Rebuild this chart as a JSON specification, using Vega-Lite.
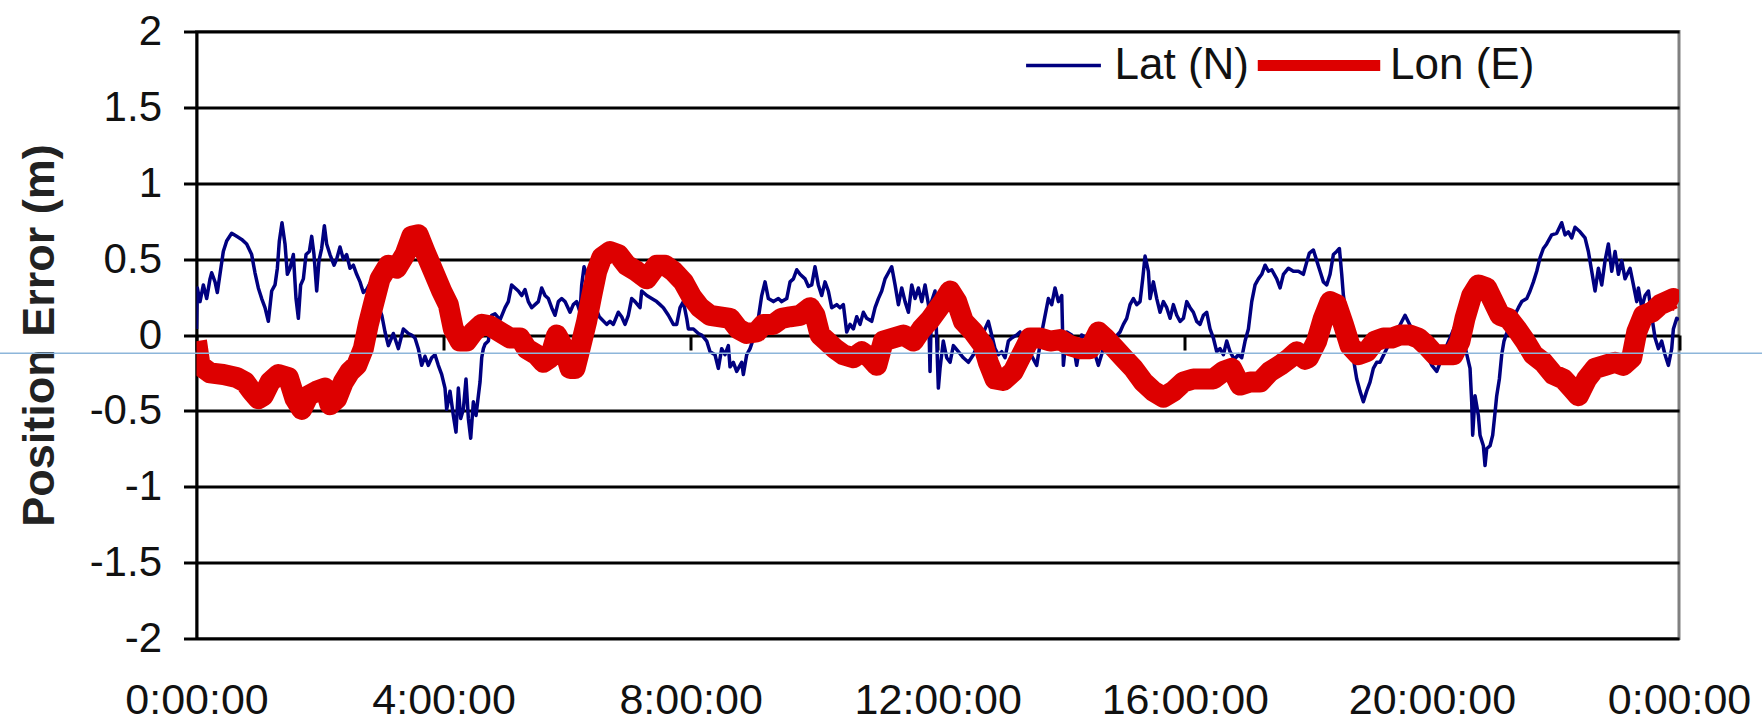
{
"$schema": "https://vega.github.io/schema/vega-lite/v6.json",
"width": 1482.5,
"height": 607,
"autosize": {"type": "none"},
"padding": {"left": 196.5, "top": 31.5, "right": 83, "bottom": 84.5},
"background": "white",
"config": {"font": "Liberation Sans", "view": {"stroke": "#808080", "strokeWidth": 3}},
"datasets": {
"lat": [
{"t":0,"e":0.04},{"t":0.013,"e":0.31},{"t":0.057,"e":0.22},{"t":0.111,"e":0.33},{"t":0.165,"e":0.24},{"t":0.219,"e":0.37},{"t":0.246,"e":0.41},{"t":0.3,"e":0.35},{"t":0.337,"e":0.28},{"t":0.38,"e":0.4},{"t":0.434,"e":0.55},{"t":0.488,"e":0.62},{"t":0.569,"e":0.67},{"t":0.65,"e":0.65},{"t":0.731,"e":0.63},{"t":0.812,"e":0.6},{"t":0.893,"e":0.53},{"t":0.947,"e":0.41},{"t":1.001,"e":0.31},{"t":1.055,"e":0.24},{"t":1.109,"e":0.18},{"t":1.163,"e":0.09},{"t":1.217,"e":0.29},{"t":1.271,"e":0.33},{"t":1.309,"e":0.44},{"t":1.341,"e":0.62},{"t":1.384,"e":0.74},{"t":1.433,"e":0.6},{"t":1.471,"e":0.4},{"t":1.514,"e":0.44},{"t":1.568,"e":0.53},{"t":1.611,"e":0.24},{"t":1.649,"e":0.11},{"t":1.686,"e":0.33},{"t":1.73,"e":0.37},{"t":1.773,"e":0.53},{"t":1.827,"e":0.55},{"t":1.865,"e":0.65},{"t":1.902,"e":0.53},{"t":1.946,"e":0.29},{"t":1.983,"e":0.49},{"t":2.026,"e":0.57},{"t":2.07,"e":0.72},{"t":2.107,"e":0.6},{"t":2.161,"e":0.53},{"t":2.226,"e":0.46},{"t":2.269,"e":0.5},{"t":2.323,"e":0.58},{"t":2.377,"e":0.5},{"t":2.431,"e":0.53},{"t":2.485,"e":0.44},{"t":2.539,"e":0.46},{"t":2.593,"e":0.4},{"t":2.647,"e":0.35},{"t":2.701,"e":0.28},{"t":2.755,"e":0.3},{"t":2.809,"e":0.34},{"t":2.917,"e":0.22},{"t":3.0,"e":0.13},{"t":3.052,"e":0.02},{"t":3.106,"e":-0.07},{"t":3.187,"e":0.01},{"t":3.268,"e":-0.09},{"t":3.349,"e":0.04},{"t":3.43,"e":0.01},{"t":3.483,"e":0},{"t":3.537,"e":-0.02},{"t":3.591,"e":-0.09},{"t":3.645,"e":-0.2},{"t":3.699,"e":-0.14},{"t":3.753,"e":-0.2},{"t":3.807,"e":-0.15},{"t":3.861,"e":-0.13},{"t":3.915,"e":-0.2},{"t":3.969,"e":-0.26},{"t":4.023,"e":-0.35},{"t":4.05,"e":-0.49},{"t":4.104,"e":-0.37},{"t":4.158,"e":-0.53},{"t":4.201,"e":-0.64},{"t":4.239,"e":-0.35},{"t":4.277,"e":-0.55},{"t":4.32,"e":-0.49},{"t":4.363,"e":-0.29},{"t":4.401,"e":-0.55},{"t":4.439,"e":-0.68},{"t":4.482,"e":-0.44},{"t":4.525,"e":-0.53},{"t":4.563,"e":-0.4},{"t":4.59,"e":-0.31},{"t":4.617,"e":-0.15},{"t":4.644,"e":-0.09},{"t":4.671,"e":-0.06},{"t":4.725,"e":-0.04},{"t":4.779,"e":0.13},{"t":4.833,"e":0.14},{"t":4.914,"e":0.1},{"t":4.995,"e":0.18},{"t":5.048,"e":0.22},{"t":5.102,"e":0.33},{"t":5.156,"e":0.31},{"t":5.21,"e":0.29},{"t":5.264,"e":0.26},{"t":5.318,"e":0.3},{"t":5.372,"e":0.22},{"t":5.426,"e":0.18},{"t":5.48,"e":0.2},{"t":5.534,"e":0.22},{"t":5.588,"e":0.31},{"t":5.642,"e":0.26},{"t":5.696,"e":0.24},{"t":5.75,"e":0.18},{"t":5.804,"e":0.13},{"t":5.858,"e":0.22},{"t":5.912,"e":0.24},{"t":5.966,"e":0.22},{"t":6.047,"e":0.15},{"t":6.1,"e":0.2},{"t":6.155,"e":0.22},{"t":6.209,"e":0.15},{"t":6.236,"e":0.33},{"t":6.274,"e":0.45},{"t":6.317,"e":0.4},{"t":6.4,"e":0.25},{"t":6.52,"e":0.12},{"t":6.64,"e":0.07},{"t":6.694,"e":0.09},{"t":6.748,"e":0.07},{"t":6.829,"e":0.15},{"t":6.883,"e":0.12},{"t":6.937,"e":0.07},{"t":6.991,"e":0.13},{"t":7.045,"e":0.24},{"t":7.099,"e":0.22},{"t":7.18,"e":0.18},{"t":7.207,"e":0.29},{"t":7.29,"e":0.26},{"t":7.369,"e":0.24},{"t":7.45,"e":0.22},{"t":7.504,"e":0.2},{"t":7.558,"e":0.18},{"t":7.639,"e":0.13},{"t":7.72,"e":0.07},{"t":7.774,"e":0.07},{"t":7.828,"e":0.18},{"t":7.882,"e":0.22},{"t":7.936,"e":0.11},{"t":7.963,"e":0.04},{"t":8.044,"e":0.04},{"t":8.125,"e":0.01},{"t":8.179,"e":0},{"t":8.26,"e":-0.04},{"t":8.314,"e":-0.11},{"t":8.394,"e":-0.13},{"t":8.448,"e":-0.22},{"t":8.502,"e":-0.09},{"t":8.556,"e":-0.13},{"t":8.61,"e":-0.07},{"t":8.637,"e":-0.21},{"t":8.691,"e":-0.18},{"t":8.745,"e":-0.24},{"t":8.826,"e":-0.18},{"t":8.853,"e":-0.26},{"t":8.907,"e":-0.13},{"t":8.961,"e":-0.09},{"t":9.069,"e":0.04},{"t":9.15,"e":0.26},{"t":9.204,"e":0.35},{"t":9.258,"e":0.24},{"t":9.34,"e":0.22},{"t":9.42,"e":0.24},{"t":9.474,"e":0.22},{"t":9.555,"e":0.24},{"t":9.609,"e":0.35},{"t":9.663,"e":0.37},{"t":9.717,"e":0.43},{"t":9.771,"e":0.4},{"t":9.852,"e":0.37},{"t":9.906,"e":0.32},{"t":9.96,"e":0.33},{"t":10.013,"e":0.45},{"t":10.067,"e":0.33},{"t":10.121,"e":0.26},{"t":10.175,"e":0.35},{"t":10.229,"e":0.29},{"t":10.283,"e":0.18},{"t":10.364,"e":0.2},{"t":10.418,"e":0.18},{"t":10.472,"e":0.2},{"t":10.526,"e":0.02},{"t":10.58,"e":0.07},{"t":10.634,"e":0.04},{"t":10.688,"e":0.12},{"t":10.742,"e":0.07},{"t":10.796,"e":0.15},{"t":10.85,"e":0.11},{"t":10.931,"e":0.09},{"t":10.985,"e":0.18},{"t":11.039,"e":0.24},{"t":11.093,"e":0.29},{"t":11.147,"e":0.37},{"t":11.201,"e":0.41},{"t":11.255,"e":0.45},{"t":11.309,"e":0.33},{"t":11.363,"e":0.2},{"t":11.417,"e":0.31},{"t":11.471,"e":0.22},{"t":11.525,"e":0.15},{"t":11.579,"e":0.33},{"t":11.633,"e":0.24},{"t":11.687,"e":0.31},{"t":11.741,"e":0.22},{"t":11.795,"e":0.33},{"t":11.85,"e":0.2},{"t":11.875,"e":-0.24},{"t":11.9,"e":0.22},{"t":11.956,"e":0.29},{"t":12.01,"e":-0.35},{"t":12.037,"e":-0.22},{"t":12.09,"e":-0.04},{"t":12.145,"e":-0.15},{"t":12.199,"e":-0.18},{"t":12.253,"e":-0.07},{"t":12.334,"e":-0.11},{"t":12.415,"e":-0.15},{"t":12.496,"e":-0.18},{"t":12.577,"e":-0.13},{"t":12.7,"e":-0.02},{"t":12.819,"e":0.09},{"t":12.873,"e":0},{"t":12.927,"e":-0.09},{"t":12.981,"e":-0.13},{"t":13.035,"e":-0.11},{"t":13.089,"e":-0.15},{"t":13.143,"e":-0.04},{"t":13.197,"e":-0.02},{"t":13.278,"e":0},{"t":13.332,"e":0.02},{"t":13.47,"e":-0.1},{"t":13.602,"e":-0.2},{"t":13.7,"e":0.05},{"t":13.791,"e":0.24},{"t":13.845,"e":0.2},{"t":13.899,"e":0.31},{"t":13.953,"e":0.22},{"t":14.007,"e":0.26},{"t":14.034,"e":-0.2},{"t":14.088,"e":0.02},{"t":14.168,"e":0},{"t":14.249,"e":-0.2},{"t":14.33,"e":0},{"t":14.411,"e":-0.02},{"t":14.519,"e":-0.09},{"t":14.6,"e":-0.2},{"t":14.681,"e":-0.09},{"t":14.816,"e":-0.04},{"t":14.951,"e":0.02},{"t":15.005,"e":0.07},{"t":15.059,"e":0.11},{"t":15.113,"e":0.2},{"t":15.167,"e":0.24},{"t":15.221,"e":0.2},{"t":15.275,"e":0.22},{"t":15.318,"e":0.37},{"t":15.356,"e":0.52},{"t":15.41,"e":0.42},{"t":15.437,"e":0.24},{"t":15.491,"e":0.35},{"t":15.545,"e":0.24},{"t":15.599,"e":0.15},{"t":15.653,"e":0.22},{"t":15.707,"e":0.18},{"t":15.761,"e":0.11},{"t":15.815,"e":0.2},{"t":15.869,"e":0.13},{"t":15.923,"e":0.09},{"t":15.977,"e":0.11},{"t":16.031,"e":0.22},{"t":16.085,"e":0.18},{"t":16.138,"e":0.15},{"t":16.192,"e":0.09},{"t":16.246,"e":0.07},{"t":16.3,"e":0.13},{"t":16.354,"e":0.15},{"t":16.408,"e":0.04},{"t":16.462,"e":-0.02},{"t":16.516,"e":-0.11},{"t":16.57,"e":-0.09},{"t":16.624,"e":-0.13},{"t":16.678,"e":-0.04},{"t":16.732,"e":-0.11},{"t":16.8,"e":-0.16},{"t":16.867,"e":-0.13},{"t":16.921,"e":-0.15},{"t":16.975,"e":-0.04},{"t":17.029,"e":0.04},{"t":17.083,"e":0.22},{"t":17.137,"e":0.33},{"t":17.191,"e":0.37},{"t":17.245,"e":0.4},{"t":17.299,"e":0.46},{"t":17.353,"e":0.42},{"t":17.407,"e":0.43},{"t":17.488,"e":0.37},{"t":17.542,"e":0.31},{"t":17.596,"e":0.4},{"t":17.677,"e":0.44},{"t":17.757,"e":0.42},{"t":17.838,"e":0.42},{"t":17.919,"e":0.4},{"t":17.973,"e":0.48},{"t":18.016,"e":0.54},{"t":18.081,"e":0.56},{"t":18.135,"e":0.49},{"t":18.189,"e":0.42},{"t":18.243,"e":0.35},{"t":18.297,"e":0.33},{"t":18.351,"e":0.4},{"t":18.405,"e":0.53},{"t":18.458,"e":0.55},{"t":18.502,"e":0.57},{"t":18.54,"e":0.4},{"t":18.567,"e":0.26},{"t":18.67,"e":-0.01},{"t":18.783,"e":-0.29},{"t":18.836,"e":-0.37},{"t":18.89,"e":-0.44},{"t":18.944,"e":-0.37},{"t":18.998,"e":-0.31},{"t":19.052,"e":-0.22},{"t":19.106,"e":-0.18},{"t":19.16,"e":-0.18},{"t":19.268,"e":-0.09},{"t":19.4,"e":0},{"t":19.565,"e":0.13},{"t":19.7,"e":0.02},{"t":19.85,"e":-0.08},{"t":20.0,"e":-0.2},{"t":20.078,"e":-0.24},{"t":20.25,"e":-0.06},{"t":20.428,"e":0.11},{"t":20.52,"e":-0.05},{"t":20.617,"e":-0.22},{"t":20.644,"e":-0.44},{"t":20.66,"e":-0.66},{"t":20.698,"e":-0.4},{"t":20.752,"e":-0.53},{"t":20.779,"e":-0.66},{"t":20.833,"e":-0.73},{"t":20.86,"e":-0.86},{"t":20.887,"e":-0.75},{"t":20.941,"e":-0.73},{"t":20.984,"e":-0.66},{"t":21.022,"e":-0.51},{"t":21.049,"e":-0.4},{"t":21.092,"e":-0.29},{"t":21.13,"e":-0.13},{"t":21.167,"e":-0.04},{"t":21.2,"e":0},{"t":21.3,"e":0.1},{"t":21.4,"e":0.18},{"t":21.454,"e":0.22},{"t":21.535,"e":0.24},{"t":21.589,"e":0.29},{"t":21.643,"e":0.35},{"t":21.697,"e":0.42},{"t":21.751,"e":0.51},{"t":21.804,"e":0.57},{"t":21.858,"e":0.6},{"t":21.939,"e":0.66},{"t":22.02,"e":0.67},{"t":22.101,"e":0.74},{"t":22.155,"e":0.66},{"t":22.209,"e":0.68},{"t":22.263,"e":0.64},{"t":22.317,"e":0.71},{"t":22.398,"e":0.68},{"t":22.479,"e":0.64},{"t":22.533,"e":0.55},{"t":22.587,"e":0.42},{"t":22.641,"e":0.29},{"t":22.695,"e":0.44},{"t":22.749,"e":0.33},{"t":22.803,"e":0.49},{"t":22.857,"e":0.6},{"t":22.911,"e":0.42},{"t":22.965,"e":0.55},{"t":23.019,"e":0.4},{"t":23.073,"e":0.49},{"t":23.127,"e":0.37},{"t":23.208,"e":0.44},{"t":23.262,"e":0.33},{"t":23.316,"e":0.22},{"t":23.343,"e":0.31},{"t":23.397,"e":0.18},{"t":23.451,"e":0.26},{"t":23.505,"e":0.29},{"t":23.56,"e":0.12},{"t":23.613,"e":-0.02},{"t":23.667,"e":-0.09},{"t":23.72,"e":-0.04},{"t":23.774,"e":-0.13},{"t":23.828,"e":-0.2},{"t":23.882,"e":-0.09},{"t":23.909,"e":0.04},{"t":23.963,"e":0.11},{"t":24,"e":0.1}
],
"lon": [
{"t":0,"e":-0.04},{"t":0.057,"e":-0.2},{"t":0.219,"e":-0.25},{"t":0.434,"e":-0.26},{"t":0.65,"e":-0.28},{"t":0.785,"e":-0.31},{"t":0.893,"e":-0.37},{"t":1.001,"e":-0.42},{"t":1.082,"e":-0.4},{"t":1.19,"e":-0.31},{"t":1.325,"e":-0.26},{"t":1.487,"e":-0.28},{"t":1.595,"e":-0.42},{"t":1.703,"e":-0.49},{"t":1.811,"e":-0.4},{"t":1.946,"e":-0.37},{"t":2.08,"e":-0.35},{"t":2.161,"e":-0.46},{"t":2.269,"e":-0.42},{"t":2.377,"e":-0.31},{"t":2.485,"e":-0.24},{"t":2.593,"e":-0.2},{"t":2.701,"e":-0.09},{"t":2.782,"e":0.07},{"t":2.863,"e":0.2},{"t":2.971,"e":0.37},{"t":3.106,"e":0.46},{"t":3.24,"e":0.44},{"t":3.375,"e":0.53},{"t":3.483,"e":0.65},{"t":3.591,"e":0.66},{"t":3.699,"e":0.55},{"t":3.834,"e":0.42},{"t":3.969,"e":0.29},{"t":4.077,"e":0.2},{"t":4.158,"e":0.04},{"t":4.266,"e":-0.04},{"t":4.374,"e":-0.04},{"t":4.482,"e":0.02},{"t":4.617,"e":0.07},{"t":4.752,"e":0.06},{"t":4.914,"e":0.02},{"t":5.075,"e":-0.02},{"t":5.237,"e":-0.02},{"t":5.345,"e":-0.09},{"t":5.507,"e":-0.13},{"t":5.615,"e":-0.18},{"t":5.723,"e":-0.15},{"t":5.831,"e":0},{"t":5.885,"e":-0.04},{"t":5.966,"e":-0.11},{"t":6.047,"e":-0.22},{"t":6.128,"e":-0.22},{"t":6.209,"e":-0.09},{"t":6.317,"e":0.09},{"t":6.398,"e":0.26},{"t":6.479,"e":0.42},{"t":6.56,"e":0.51},{"t":6.695,"e":0.55},{"t":6.829,"e":0.53},{"t":6.964,"e":0.46},{"t":7.126,"e":0.42},{"t":7.288,"e":0.37},{"t":7.45,"e":0.46},{"t":7.585,"e":0.46},{"t":7.72,"e":0.42},{"t":7.882,"e":0.35},{"t":8.017,"e":0.25},{"t":8.152,"e":0.18},{"t":8.314,"e":0.13},{"t":8.475,"e":0.12},{"t":8.637,"e":0.11},{"t":8.772,"e":0.04},{"t":8.907,"e":0.01},{"t":9.069,"e":0.02},{"t":9.177,"e":0.07},{"t":9.339,"e":0.07},{"t":9.474,"e":0.11},{"t":9.609,"e":0.12},{"t":9.771,"e":0.13},{"t":9.933,"e":0.18},{"t":10.013,"e":0.13},{"t":10.094,"e":0},{"t":10.202,"e":-0.04},{"t":10.337,"e":-0.09},{"t":10.472,"e":-0.13},{"t":10.634,"e":-0.15},{"t":10.769,"e":-0.11},{"t":10.904,"e":-0.15},{"t":11.012,"e":-0.2},{"t":11.12,"e":-0.04},{"t":11.282,"e":-0.02},{"t":11.444,"e":0},{"t":11.606,"e":-0.04},{"t":11.74,"e":0.04},{"t":11.875,"e":0.1},{"t":12.09,"e":0.22},{"t":12.199,"e":0.29},{"t":12.307,"e":0.22},{"t":12.415,"e":0.09},{"t":12.577,"e":0.02},{"t":12.739,"e":-0.07},{"t":12.819,"e":-0.18},{"t":12.927,"e":-0.29},{"t":13.062,"e":-0.3},{"t":13.224,"e":-0.24},{"t":13.359,"e":-0.13},{"t":13.494,"e":-0.02},{"t":13.656,"e":-0.02},{"t":13.818,"e":-0.04},{"t":13.98,"e":-0.03},{"t":14.142,"e":-0.07},{"t":14.304,"e":-0.09},{"t":14.465,"e":-0.09},{"t":14.6,"e":0.02},{"t":14.708,"e":-0.02},{"t":14.87,"e":-0.09},{"t":15.005,"e":-0.15},{"t":15.167,"e":-0.22},{"t":15.329,"e":-0.31},{"t":15.491,"e":-0.37},{"t":15.653,"e":-0.41},{"t":15.815,"e":-0.37},{"t":15.977,"e":-0.31},{"t":16.138,"e":-0.29},{"t":16.3,"e":-0.29},{"t":16.462,"e":-0.29},{"t":16.624,"e":-0.24},{"t":16.759,"e":-0.22},{"t":16.894,"e":-0.33},{"t":17.056,"e":-0.31},{"t":17.218,"e":-0.31},{"t":17.38,"e":-0.24},{"t":17.542,"e":-0.2},{"t":17.704,"e":-0.15},{"t":17.812,"e":-0.11},{"t":17.947,"e":-0.16},{"t":18.0,"e":-0.15},{"t":18.135,"e":-0.04},{"t":18.243,"e":0.11},{"t":18.351,"e":0.22},{"t":18.458,"e":0.2},{"t":18.567,"e":0.07},{"t":18.674,"e":-0.07},{"t":18.81,"e":-0.13},{"t":18.944,"e":-0.11},{"t":19.079,"e":-0.04},{"t":19.214,"e":-0.02},{"t":19.349,"e":-0.02},{"t":19.484,"e":0},{"t":19.646,"e":0},{"t":19.781,"e":-0.02},{"t":19.916,"e":-0.07},{"t":20.05,"e":-0.13},{"t":20.185,"e":-0.13},{"t":20.347,"e":-0.13},{"t":20.455,"e":-0.04},{"t":20.536,"e":0.11},{"t":20.644,"e":0.26},{"t":20.752,"e":0.33},{"t":20.887,"e":0.31},{"t":20.995,"e":0.22},{"t":21.103,"e":0.13},{"t":21.238,"e":0.11},{"t":21.373,"e":0.04},{"t":21.508,"e":-0.04},{"t":21.643,"e":-0.13},{"t":21.804,"e":-0.18},{"t":21.966,"e":-0.26},{"t":22.128,"e":-0.29},{"t":22.263,"e":-0.35},{"t":22.371,"e":-0.4},{"t":22.506,"e":-0.29},{"t":22.641,"e":-0.22},{"t":22.803,"e":-0.2},{"t":22.965,"e":-0.18},{"t":23.1,"e":-0.2},{"t":23.235,"e":-0.15},{"t":23.316,"e":0.02},{"t":23.424,"e":0.13},{"t":23.559,"e":0.15},{"t":23.694,"e":0.2},{"t":23.802,"e":0.22},{"t":23.909,"e":0.24},{"t":24,"e":0.22}
],
"guide": [{"a": -3.2, "b": 25.4, "g": -0.121}]
},
"layer": [
{
"data": {"name": "lat"},
"mark": {"type": "line", "strokeWidth": 3.5, "clip": true, "strokeJoin": "round"},
"encoding": {
"x": {"field": "t", "type": "quantitative",
 "scale": {"domain": [0, 24], "nice": false, "zero": false},
 "axis": {"title": null, "grid": false, "domain": false, "values": [0,4,8,12,16,20,24],
  "labelExpr": "(datum.value % 24) + ':00:00'", "offset": -303.5, "tickSize": 15, "tickWidth": 3, "tickColor": "black",
  "labelPadding": 363, "labelBaseline": "alphabetic", "labelFontSize": 43, "labelColor": "#111111",
  "labelFlush": false, "labelOverlap": false, "labelBound": false}},
"y": {"field": "e", "type": "quantitative",
 "scale": {"domain": [-2, 2], "nice": false, "zero": false},
 "axis": {"title": "Position Error (m)", "values": [-2,-1.5,-1,-0.5,0,0.5,1,1.5,2], "labelExpr": "datum.value + ''",
  "grid": true, "gridColor": "black", "gridWidth": 3, "gridOpacity": 1, "domainColor": "black", "domainWidth": 3,
  "tickColor": "black", "tickWidth": 3, "tickSize": 13, "labelPadding": 22, "labelFontSize": 42, "labelColor": "#111111",
  "titleFontSize": 45, "titleFontWeight": "bold", "titleColor": "#222222", "titleX": -143, "titleY": 303.5,
  "titleAngle": 270, "titleAlign": "center", "titleBaseline": "alphabetic"}},
"color": {"datum": "Lat (N)",
 "scale": {"domain": ["Lat (N)", "Lon (E)"], "range": ["#000080", "#dd0000"]},
 "legend": {"orient": "none", "legendX": 845, "legendY": 12, "direction": "horizontal", "title": null,
  "symbolType": "stroke", "symbolSize": 5600, "symbolStrokeWidth": 3.5, "labelFontSize": 44, "labelColor": "#111111",
  "labelOffset": 29, "columnPadding": -14.5, "padding": 0, "labelLimit": 400,
  "encode": {"symbols": {"update": {
   "strokeWidth": {"signal": "datum.value === 'Lon (E)' ? 11 : 3.5"},
   "size": {"signal": "datum.value === 'Lon (E)' ? 15000 : 5600"},
   "x": {"signal": "datum.value === 'Lon (E)' ? 2 : 22"}}}}}}
}
},
{
"data": {"name": "lon"},
"mark": {"type": "line", "strokeWidth": 21, "clip": true, "strokeJoin": "round"},
"encoding": {
"x": {"field": "t", "type": "quantitative"},
"y": {"field": "e", "type": "quantitative"},
"color": {"datum": "Lon (E)"}
}
},
{
"data": {"name": "guide"},
"mark": {"type": "rule", "color": "#8db6da", "strokeWidth": 1.5, "clip": false},
"encoding": {
"x": {"field": "a", "type": "quantitative"},
"x2": {"field": "b"},
"y": {"field": "g", "type": "quantitative"}
}
}
]
}
